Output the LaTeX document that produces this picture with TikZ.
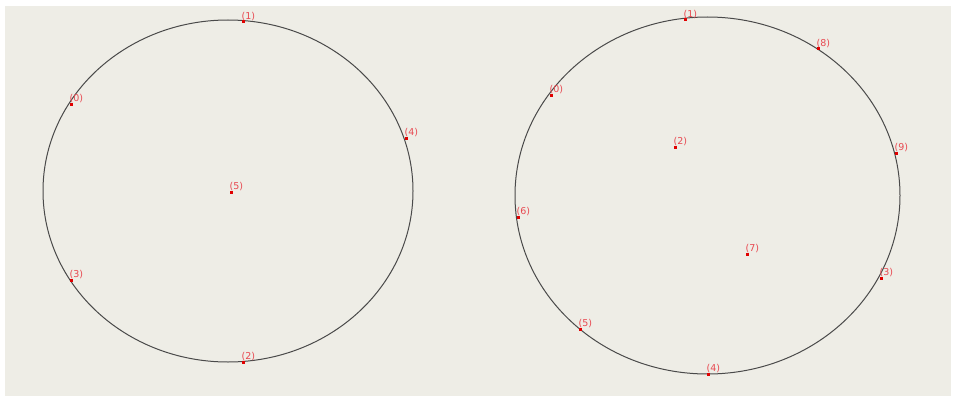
\documentclass[tikz,border=0pt]{standalone}
\usepackage{fontspec}
\setmainfont{DejaVu Sans}
\definecolor{bgbeige}{HTML}{EEEDE6}
\definecolor{ptred}{HTML}{E00000}
\definecolor{lblred}{HTML}{E84850}
\definecolor{circ}{HTML}{4A4A4A}
\tikzset{
  pt/.style={fill=ptred, draw=none, minimum size=3pt, inner sep=0pt, outer sep=0pt, rectangle},
  lbl/.style={text=lblred, font=\fontsize{9.5}{10}\selectfont, inner sep=0pt, anchor=south west},
  ring/.style={draw=circ, line width=1pt, fill=none}
}
\begin{document}
\begin{tikzpicture}[x=1pt,y=-1pt]
\useasboundingbox (0,0) rectangle (956,396);
\fill[white] (0,0) rectangle (956,396);
\fill[bgbeige] (5,6) rectangle (951,396);
% left ellipse
\draw[ring] (228,191) ellipse [x radius=185, y radius=171];
% right ellipse
\draw[ring] (707.5,195.5) ellipse [x radius=192.5, y radius=178.5];
% points and their labels
\foreach \n/\x/\y/\t in {L1/243/22/(1), L0/71/104/(0), L4/406/138/(4), L5/231/192/(5), L3/71/280/(3), L2/243/362/(2),
  R1/685/20/(1), R8/818/49/(8), R0/551/95/(0), R2/675/147/(2), R9/896/153/(9), R6/518/217/(6), R7/747/254/(7), R3/881/278/(3), R5/580/329/(5), R4/708/374/(4)}{
  \node[pt] (\n) at (\x,\y) {};
  \node[lbl] (\n t) at ([xshift=-1.5pt,yshift=1.5pt]\n.center) {\t};
}
\end{tikzpicture}
\end{document}
